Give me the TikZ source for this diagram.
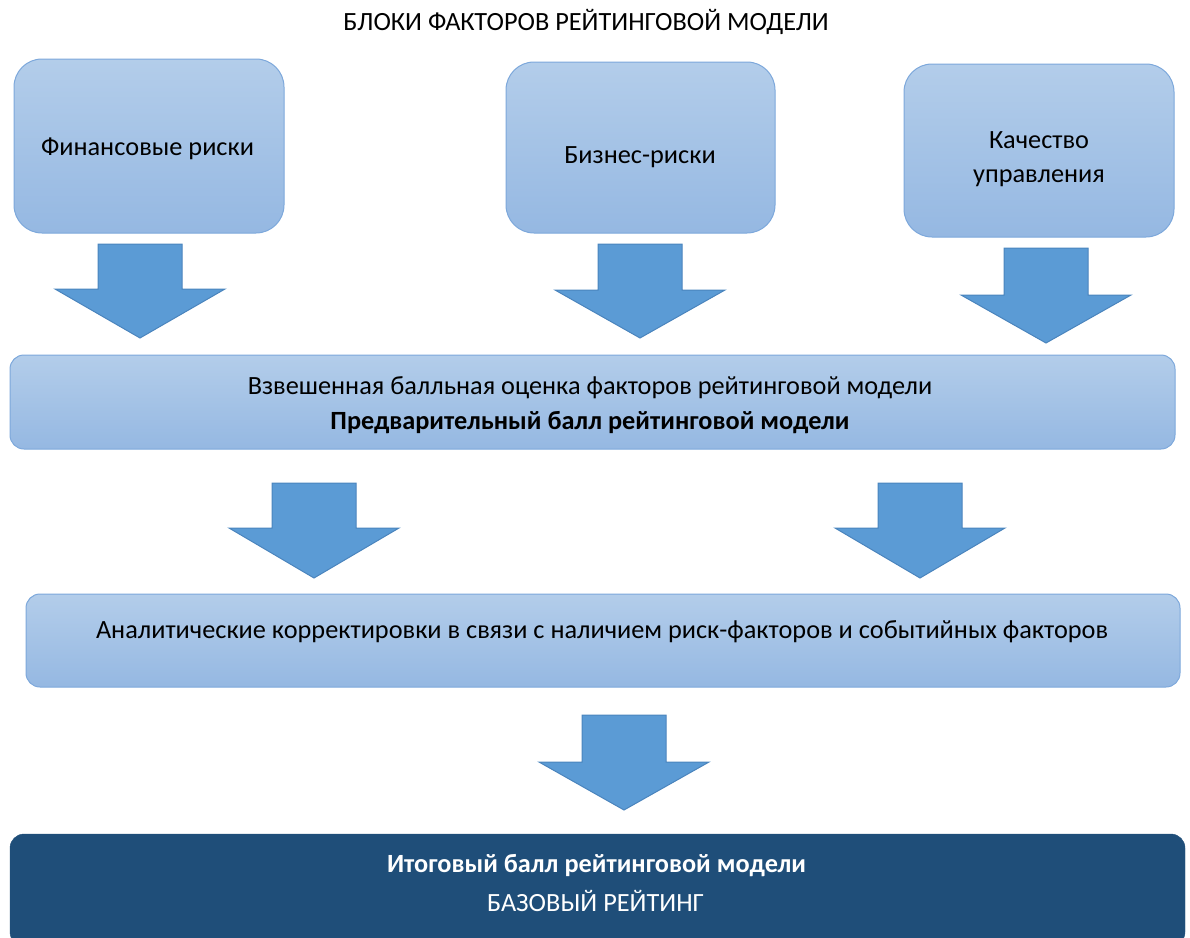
\documentclass[tikz,border=0pt]{standalone}
\usepackage{fontspec}
\setmainfont{Carlito}
\definecolor{boxtop}{HTML}{B3CDEA}
\definecolor{boxbot}{HTML}{95B8E2}
\definecolor{boxline}{HTML}{7DA8DB}
\definecolor{arrfill}{HTML}{5B9BD5}
\definecolor{arrline}{HTML}{4A84BD}
\definecolor{darkbox}{HTML}{1F4E79}
\newcommand{\blockarrow}[4]{%
  \fill[arrfill,draw=arrline,line width=1pt,line join=miter]
    (#1-42,#2) -- (#1+42,#2) -- (#1+42,#3) -- (#1+85,#3) -- (#1,#4) -- (#1-85,#3) -- (#1-42,#3) -- cycle;}
\begin{document}
\begin{tikzpicture}[x=1pt,y=-1pt,
  txt/.style={font=\fontsize{26.3}{30}\selectfont},
  btxt/.style={font=\fontsize{26.3}{30}\selectfont\bfseries},
  lbox/.style={draw=boxline,line width=1pt,top color=boxtop,bottom color=boxbot,rounded corners=#1,inner sep=0pt},
  lbox/.default=28pt]
\useasboundingbox (0,0) rectangle (1190,937);
\node[txt] (title) at (586,22) {БЛОКИ ФАКТОРОВ РЕЙТИНГОВОЙ МОДЕЛИ};
\node[lbox,minimum width=270pt,minimum height=174pt] (fin) at (149,146) {};
\node[lbox,minimum width=269pt,minimum height=171pt] (bus) at (640.5,147.5) {};
\node[lbox,minimum width=270pt,minimum height=173pt] (qual) at (1039,150.5) {};
\node[txt] (finT) at (147.5,149) {Финансовые риски};
\node[txt] (busT) at (640,157) {Бизнес-риски};
\node[txt,align=center,font=\fontsize{26.3}{34}\selectfont] (qualT) at (1039,159) {Качество\\управления};
\blockarrow{140}{244}{289}{338}
\blockarrow{640}{244}{290}{338}
\blockarrow{1046}{248}{295}{343}
\node[lbox=14pt,minimum width=1165pt,minimum height=94pt] (score) at (592.5,402) {};
\node[txt] (scoreA) at (590,388) {Взвешенная балльная оценка факторов рейтинговой модели};
\node[btxt] (scoreB) at (590,423) {Предварительный балл рейтинговой модели};
\blockarrow{314}{483}{528}{578}
\blockarrow{920}{483}{528}{578}
\node[lbox=14pt,minimum width=1154pt,minimum height=93pt] (adj) at (603,640.5) {};
\node[txt] (adjT) at (602,632) {Аналитические корректировки в связи с наличием риск-факторов и событийных факторов};
\blockarrow{624}{715}{762}{810}
\node[fill=darkbox,draw=darkbox,rounded corners=14pt,minimum width=1175pt,minimum height=112pt,inner sep=0pt] (final) at (597.5,890) {};
\node[btxt,text=white] (finalA) at (596.5,866) {Итоговый балл рейтинговой модели};
\node[txt,text=white] (finalB) at (595.5,901) {БАЗОВЫЙ РЕЙТИНГ};
\end{tikzpicture}
\end{document}
